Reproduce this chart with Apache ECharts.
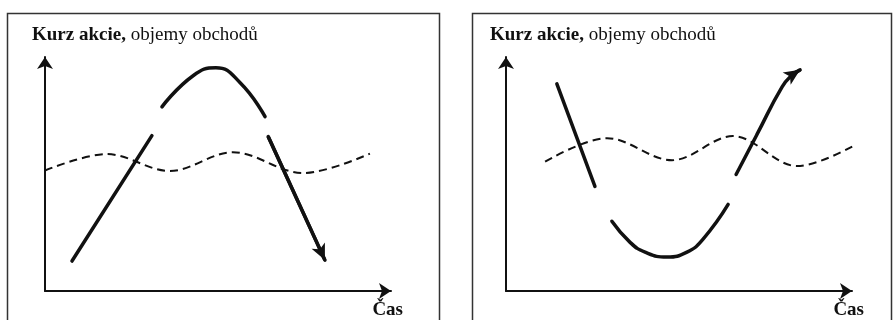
<!DOCTYPE html>
<html>
<head>
<meta charset="utf-8">
<script src="https://cdn.jsdelivr.net/npm/echarts@6/dist/echarts.min.js"></script>
<style>
  html, body { margin: 0; padding: 0; background: #fff; }
  #chart { width: 893px; height: 320px; }
</style>
</head>
<body>
<div id="chart"></div>
<script>
// osa x = čas (0–100), osa y = kurz / objem (0–100)

// levý graf: kurz roste, vrchol, pak pád
const leftRise = [[7.8, 12.8], [30.9, 66.4]]
const leftPeak = [[33.8, 78.7], [42.8, 92.0], [49.4, 95.4], [56.4, 89.0], [63.6, 74.5]]
const leftFall = [[64.5, 66.0], [80.9, 13.2]]
// objem obchodů – vlnka (začátek, extrémy, konec)
const leftVolume = [[0, 51.5], [17.9, 58.5], [36.1, 51.3], [54.3, 59.3], [74.6, 50.4], [93.9, 58.7]]

// pravý graf: pokles, dno, pak růst
const rightFall = [[14.7, 88.5], [25.7, 44.7]]
const rightTrough = [[30.6, 29.8], [35.8, 20.9], [40.2, 16.6], [46.5, 14.5], [52.3, 16.6], [56.9, 22.1], [64.2, 37.0]]
const rightRise = [[66.5, 49.8], [72.5, 66.8], [79.8, 87.2], [82.7, 92.3], [85.0, 94.5]]
const rightVolume = [[11.3, 55.3], [29.2, 65.3], [48.0, 55.9], [65.6, 66.2], [84.1, 53.4], [104.6, 65.5]]

const titleText = '{b|Kurz akcie,} objemy obchodů'
const xName = 'Čas'

const INK = '#111'
const FONT = '"Liberation Serif", "Times New Roman", serif'

const chart = echarts.init(document.getElementById('chart'), null, { renderer: 'canvas' })

function axisPair(idx) {
  const axisLine = {
    show: true,
    symbol: ['none', 'arrow'],
    symbolSize: [12, 12],
    lineStyle: { color: INK, width: 2 },
  }
  return {
    x: {
      type: 'value', gridIndex: idx, min: 0, max: 100,
      axisLine, axisTick: { show: false }, axisLabel: { show: false }, splitLine: { show: false },
      name: xName, nameLocation: 'end', nameGap: 12,
      nameTextStyle: { fontFamily: FONT, fontSize: 19, fontWeight: 'bold', color: INK, align: 'right', verticalAlign: 'top', padding: [10, 0, 0, 0] },
    },
    y: {
      type: 'value', gridIndex: idx, min: 0, max: 100,
      axisLine, axisTick: { show: false }, axisLabel: { show: false }, splitLine: { show: false },
    },
  }
}

function solid(idx, data, arrow) {
  const s = {
    type: 'line', xAxisIndex: idx, yAxisIndex: idx,
    data, smooth: 0.5, showSymbol: false, clip: false, silent: true,
    lineStyle: { color: INK, width: 3.5, cap: 'round' },
  }
  if (arrow) {
    const a = data[data.length - 2]
    const b = data[data.length - 1]
    s.markLine = {
      silent: true,
      symbol: ['none', 'arrow'],
      symbolSize: [11, 16],
      label: { show: false },
      lineStyle: { color: INK, width: 3.5, type: 'solid' },
      data: [[{ coord: a }, { coord: b }]],
    }
  }
  return s
}

function dashed(idx, data) {
  return {
    type: 'line', xAxisIndex: idx, yAxisIndex: idx,
    data, smooth: 0.35, showSymbol: false, clip: false, silent: true,
    lineStyle: { color: INK, width: 2, type: [8, 5] },
  }
}

const a0 = axisPair(0)
const a1 = axisPair(1)

const richTitle = {
  fontFamily: FONT, fontSize: 19, color: INK, fontWeight: 'normal',
  rich: { b: { fontFamily: FONT, fontSize: 19, color: INK, fontWeight: 'bold' } },
}

chart.setOption({
  animation: false,
  backgroundColor: '#fff',
  title: [
    { text: titleText, left: 32, top: 26, padding: 0, textStyle: richTitle },
    { text: titleText, left: 490, top: 26, padding: 0, textStyle: richTitle },
  ],
  graphic: [
    { type: 'rect', shape: { x: 7.5, y: 13.5, width: 432, height: 330 }, style: { fill: 'none', stroke: '#333', lineWidth: 1.5 }, silent: true },
    { type: 'rect', shape: { x: 472.5, y: 13.5, width: 419, height: 330 }, style: { fill: 'none', stroke: '#333', lineWidth: 1.5 }, silent: true },
  ],
  grid: [
    { left: 45, top: 57, width: 346, height: 235 },
    { left: 506, top: 57, width: 346, height: 235 },
  ],
  xAxis: [a0.x, a1.x],
  yAxis: [a0.y, a1.y],
  series: [
    solid(0, leftRise),
    solid(0, leftPeak),
    solid(0, leftFall, true),
    dashed(0, leftVolume),
    solid(1, rightFall),
    solid(1, rightTrough),
    solid(1, rightRise, true),
    dashed(1, rightVolume),
  ],
})
</script>
</body>
</html>
